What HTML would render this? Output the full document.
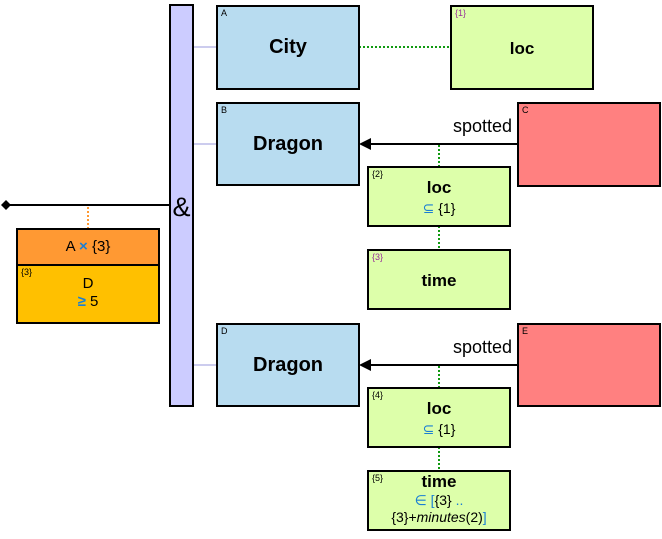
<!DOCTYPE html>
<html><head><style>
body{margin:0;width:662px;height:539px;background:#fff;position:relative;font-family:"Liberation Sans",sans-serif;overflow:hidden}
.b{position:absolute;border:2px solid #000;box-sizing:border-box;text-align:center}
.t{position:absolute;font-size:9px;left:3px;top:1px;color:#000}
.n{font-weight:bold;font-size:20px}
.s{font-weight:bold;font-size:17px}
.bl{color:#1a7fd4}
</style></head><body>
<svg width="662" height="539" style="position:absolute;left:0;top:0">
<line x1="193" y1="47" x2="217" y2="47" stroke="#ccccee" stroke-width="2"/>
<line x1="193" y1="144" x2="217" y2="144" stroke="#ccccee" stroke-width="2"/>
<line x1="193" y1="365" x2="217" y2="365" stroke="#ccccee" stroke-width="2"/>
<line x1="359" y1="47" x2="451" y2="47" stroke="#119911" stroke-width="2" stroke-dasharray="2,2"/>
<line x1="10" y1="205" x2="170" y2="205" stroke="#000" stroke-width="2"/>
<polygon points="1,205 6,200 11,205 6,210" fill="#000"/>
<line x1="88" y1="207" x2="88" y2="229" stroke="#ff9933" stroke-width="2" stroke-dasharray="2,2"/>
<line x1="370" y1="144" x2="518" y2="144" stroke="#000" stroke-width="2"/>
<polygon points="359,144 371,138 371,150" fill="#000"/>
<line x1="370" y1="365" x2="518" y2="365" stroke="#000" stroke-width="2"/>
<polygon points="359,365 371,359 371,371" fill="#000"/>
<g stroke="#119911" stroke-width="2" stroke-dasharray="2,2">
<line x1="439" y1="145" x2="439" y2="167"/><line x1="439" y1="226" x2="439" y2="250"/>
<line x1="439" y1="366" x2="439" y2="388"/><line x1="439" y1="447" x2="439" y2="471"/>
</g>
<text x="512" y="132" font-size="18" text-anchor="end" font-family="Liberation Sans">spotted</text>
<text x="512" y="353" font-size="18" text-anchor="end" font-family="Liberation Sans">spotted</text>
</svg>
<div class="b" style="left:169px;top:4px;width:25px;height:403px;background:#ccccff"><div style="position:absolute;top:186px;left:0;width:21px;font-size:27px;line-height:30px">&amp;</div></div>
<div class="b" style="left:216px;top:5px;width:144px;height:85px;background:#b8dcf0"><span class="t">A</span><div class="n" style="margin-top:29px">City</div></div>
<div class="b" style="left:450px;top:5px;width:144px;height:85px;background:#ddffaa"><span class="t" style="color:#993399">{1}</span><div class="s" style="margin-top:32px">loc</div></div>
<div class="b" style="left:216px;top:102px;width:144px;height:84px;background:#b8dcf0"><span class="t">B</span><div class="n" style="margin-top:29px">Dragon</div></div>
<div class="b" style="left:517px;top:102px;width:144px;height:85px;background:#ff8080"><span class="t">C</span></div>
<div class="b" style="left:367px;top:166px;width:144px;height:61px;background:#ddffaa"><span class="t">{2}</span><div class="s" style="margin-top:10px">loc</div><div style="font-size:14px;margin-top:2px"><span class="bl">⊆</span> {1}</div></div>
<div class="b" style="left:367px;top:249px;width:144px;height:61px;background:#ddffaa"><span class="t" style="color:#993399">{3}</span><div class="s" style="margin-top:20px">time</div></div>
<div class="b" style="left:216px;top:323px;width:144px;height:84px;background:#b8dcf0"><span class="t">D</span><div class="n" style="margin-top:29px">Dragon</div></div>
<div class="b" style="left:517px;top:323px;width:144px;height:84px;background:#ff8080"><span class="t">E</span></div>
<div class="b" style="left:367px;top:387px;width:144px;height:61px;background:#ddffaa"><span class="t">{4}</span><div class="s" style="margin-top:10px">loc</div><div style="font-size:14px;margin-top:2px"><span class="bl">⊆</span> {1}</div></div>
<div class="b" style="left:367px;top:470px;width:144px;height:61px;background:#ddffaa"><span class="t">{5}</span><div class="s" style="margin-top:0px">time</div><div style="font-size:14px;line-height:17px"><span class="bl">∈ [</span>{3} <span class="bl">..</span><br>{3}+<i>minutes</i>(2)<span class="bl">]</span></div></div>
<div class="b" style="left:16px;top:228px;width:144px;height:96px;background:#ffc000">
<div style="height:34px;background:#ff9933;border-bottom:2px solid #000;font-size:15px;line-height:34px">A <span class="bl" style="font-weight:bold">×</span> {3}</div>
<span class="t" style="top:37px">{3}</span>
<div style="font-size:15px;margin-top:9px">D</div><div style="font-size:15px;margin-top:1px"><span class="bl" style="font-weight:bold">≥</span> 5</div>
</div>
</body></html>
